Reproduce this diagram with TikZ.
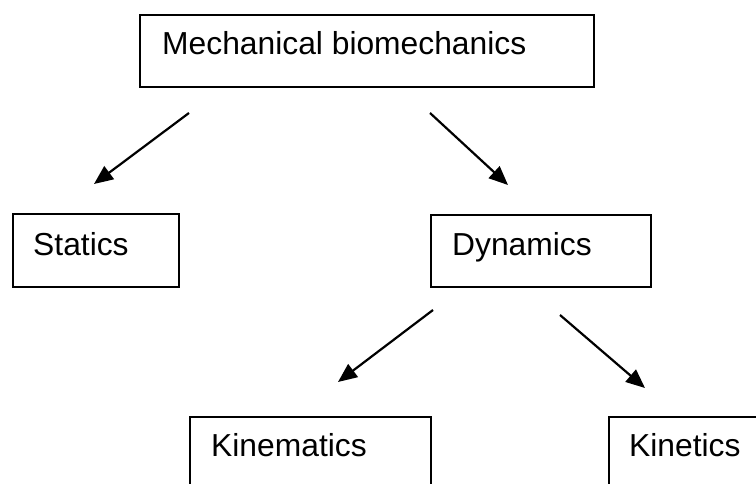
\documentclass[tikz,border=0pt]{standalone}
\usepackage{fontspec}
\setmainfont{Liberation Sans}
\usetikzlibrary{arrows.meta}
\begin{document}
\begin{tikzpicture}[x=1pt,y=-1pt,
  box/.style={draw=black,line width=1.6pt,rectangle,inner sep=0pt,anchor=north west},
  lbl/.style={anchor=base west,inner sep=0pt,font=\fontsize{31.8}{38}\selectfont},
  arr/.style={line width=2.2pt,-{Triangle[length=19pt,width=16pt]}}]
\useasboundingbox (0,0) rectangle (756,484);
\begin{scope}
\clip (0,0) rectangle (756,484);
% boxes
\node[box,minimum width=454pt,minimum height=72pt] (mech) at (139,14) {};
\node[box,minimum width=166pt,minimum height=73pt] (stat) at (12,213) {};
\node[box,minimum width=220pt,minimum height=72pt] (dyn) at (430,214) {};
\node[box,minimum width=241pt,minimum height=73pt] (kinem) at (189,416) {};
\node[box,minimum width=166pt,minimum height=73pt] (kinet) at (608,416) {};
% labels
\node[lbl] (tmech) at ([xshift=23pt,yshift=-41pt]mech.north west) {Mechanical biomechanics};
\node[lbl] (tstat) at ([xshift=21pt,yshift=-42pt]stat.north west) {Statics};
\node[lbl] (tdyn) at ([xshift=22pt,yshift=-41pt]dyn.north west) {Dynamics};
\node[lbl] (tkinem) at ([xshift=22pt,yshift=-40pt]kinem.north west) {Kinematics};
\node[lbl] (tkinet) at ([xshift=21pt,yshift=-40pt]kinet.north west) {Kinetics};
% arrow ends
\coordinate (a1s) at (189,113); \coordinate (a1e) at (94,184);
\coordinate (a2s) at (430,113); \coordinate (a2e) at (508,185);
\coordinate (a3s) at (433,310); \coordinate (a3e) at (338,382);
\coordinate (a4s) at (560,315); \coordinate (a4e) at (645,388);
\draw[arr] (a1s) -- (a1e);
\draw[arr] (a2s) -- (a2e);
\draw[arr] (a3s) -- (a3e);
\draw[arr] (a4s) -- (a4e);
\end{scope}
\end{tikzpicture}
\end{document}
